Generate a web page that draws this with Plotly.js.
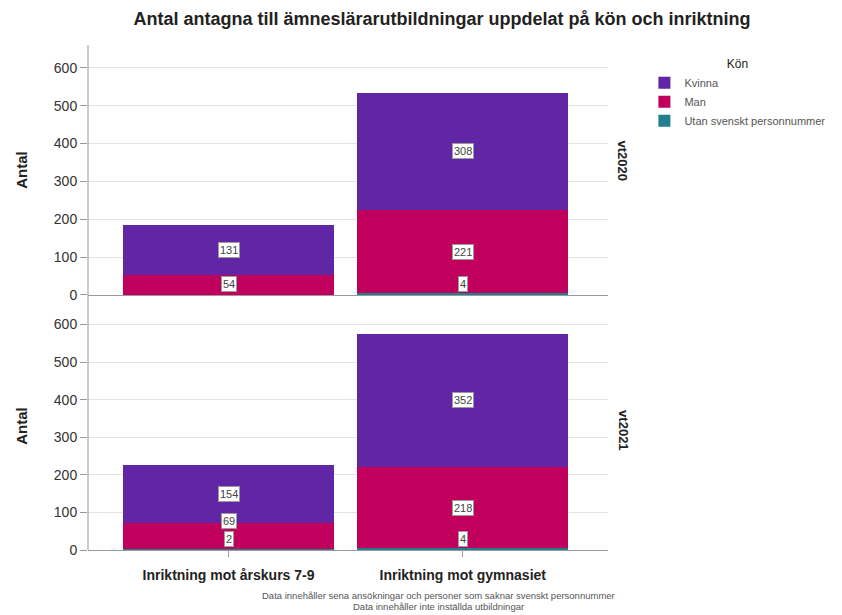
<!DOCTYPE html>
<html>
<head>
<meta charset="utf-8">
<script src="https://cdn.plot.ly/plotly-3.0.1.min.js"></script>
<style>html,body{margin:0;padding:0;background:#fff;}#chart{width:842px;height:615px;}</style>
</head>
<body>
<div id="chart"></div>
<script>
const categories = ["Inriktning mot årskurs 7-9", "Inriktning mot gymnasiet"];
const panels = ["vt2020", "vt2021"];
const seriesNames = ["Utan svenskt personnummer", "Man", "Kvinna"];
const utan2020 = [0, 4];
const man2020 = [54, 221];
const kvinna2020 = [131, 308];
const utan2021 = [2, 4];
const man2021 = [69, 218];
const kvinna2021 = [154, 352];
const colors = ["#1f7f8f", "#c0005c", "#6126a3"];
const yTicks = [0, 100, 200, 300, 400, 500, 600];
const footnotes = ["Data innehåller sena ansökningar och personer som saknar svenskt personnummer",
                   "Data innehåller inte inställda utbildningar"];

const panelData = [[utan2020, man2020, kvinna2020], [utan2021, man2021, kvinna2021]];
const FONT = "Liberation Sans, Arial, sans-serif";
const traces = [];
const annotations = [];

panelData.forEach((series, p) => {
  const xa = p === 0 ? "x" : "x2";
  const ya = p === 0 ? "y" : "y2";
  series.forEach((vals, s) => {
    traces.push({
      type: "bar", x: [0, 1], y: vals, name: seriesNames[s],
      xaxis: xa, yaxis: ya, width: 0.9,
      marker: {color: colors[s], line: {width: 0}},
      showlegend: p === 0, legendgroup: seriesNames[s], hoverinfo: "y+name"
    });
  });
  for (let c = 0; c < categories.length; c++) {
    let base = 0, prev = -1e9;
    series.forEach((vals) => {
      const v = vals[c];
      if (v > 0) {
        let yl = base + v / 2;
        yl = Math.max(yl, 28, prev + 50);
        prev = yl;
        annotations.push({
          x: c, y: yl, xref: xa, yref: ya, text: String(v), showarrow: false,
          bgcolor: "#ffffff", bordercolor: "#9a9a9a", borderwidth: 1, borderpad: 1,
          font: {family: FONT, size: 11, color: "#444"}
        });
      }
      base += v;
    });
  }
  annotations.push({
    x: 1.01, xref: "paper", xanchor: "left",
    y: p === 0 ? 0.772 : 0.238, yref: "paper", yanchor: "middle",
    text: "<b>" + panels[p] + "</b>", textangle: 90, showarrow: false,
    font: {family: FONT, size: 13, color: "#222"}
  });
});

footnotes.forEach((t, i) => {
  annotations.push({
    x: 0.674, xref: "paper", xanchor: "center", align: "center",
    y: i === 0 ? -0.091 : -0.112, yref: "paper", yanchor: "middle", showarrow: false,
    text: t, font: {family: FONT, size: 9.5, color: "#555"}
  });
});

const yaxisBase = {
  range: [0, 660], tickvals: yTicks, ticks: "outside", ticklen: 7, tickcolor: "#999",
  showgrid: true, gridcolor: "#e3e3e3", zeroline: false, showline: false,
  tickfont: {family: FONT, size: 14, color: "#333"},
  title: {text: "<b>Antal</b>", font: {family: FONT, size: 15, color: "#222"}, standoff: 22}
};
const xaxisBase = {
  range: [-0.6, 1.62], tickvals: [0, 1], ticktext: categories.map(c => "<b>" + c + "</b>"),
  showline: true, linecolor: "#999", linewidth: 1, showgrid: false, zeroline: false,
  ticks: "outside", ticklen: 6, tickcolor: "#999", ticklabelstandoff: 6,
  tickfont: {family: FONT, size: 14, color: "#222"}
};

const layout = {
  width: 842, height: 615,
  margin: {l: 88, r: 232, t: 45, b: 65},
  paper_bgcolor: "#fff", plot_bgcolor: "#fff",
  barmode: "stack", bargap: 0.1,
  title: {text: "<b>Antal antagna till ämneslärarutbildningar uppdelat på kön och inriktning</b>",
    x: 0.525, xanchor: "center", y: 0.97, yanchor: "middle",
    font: {family: FONT, size: 18, color: "#222"}},
  xaxis: Object.assign({}, xaxisBase, {anchor: "y", showticklabels: false, ticks: ""}),
  yaxis: Object.assign({}, yaxisBase, {domain: [0.505, 1], anchor: "x"}),
  xaxis2: Object.assign({}, xaxisBase, {anchor: "y2"}),
  yaxis2: Object.assign({}, yaxisBase, {domain: [0, 0.491], anchor: "x2"}),
  legend: {
    x: 1.07, xanchor: "left", y: 0.985, yanchor: "top", traceorder: "reversed",
    title: {text: "Kön", side: "top center", font: {family: FONT, size: 12, color: "#222"}},
    font: {family: FONT, size: 11, color: "#555"},
    itemwidth: 30, tracegroupgap: 0, bgcolor: "rgba(0,0,0,0)"
  },
  shapes: [{type: "line", xref: "paper", yref: "paper", x0: 0, x1: 0, y0: 0, y1: 1,
    line: {color: "#999", width: 1}}],
  annotations: annotations
};

Plotly.newPlot("chart", traces, layout, {displayModeBar: false, staticPlot: true});
</script>
</body>
</html>
